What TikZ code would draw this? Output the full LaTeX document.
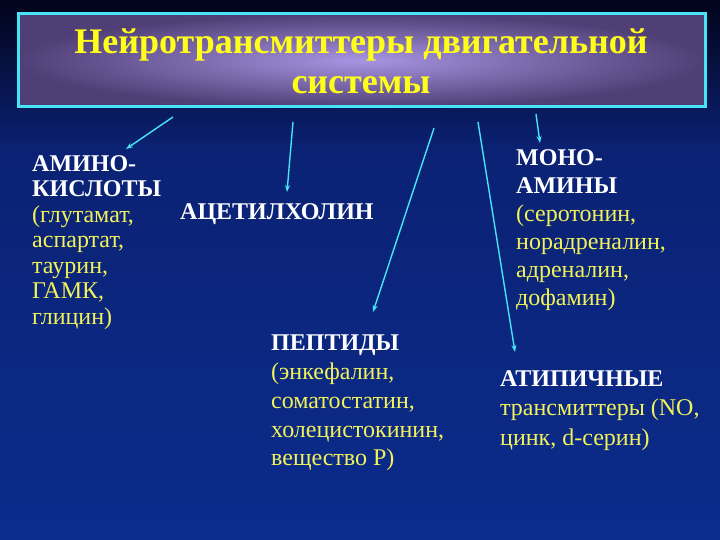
\documentclass[tikz,border=0pt]{standalone}
\usepackage{fontspec}
\setmainfont{Liberation Serif}
\newfontfamily\tms{Liberation Serif}
\usetikzlibrary{arrows.meta}
\definecolor{bgtop}{HTML}{02041A}
\definecolor{bgmid}{HTML}{0B2274}
\definecolor{bgbot}{HTML}{0B2C8C}
\definecolor{cyanl}{HTML}{46E4F4}
\definecolor{ttlyel}{HTML}{FFFF1A}
\definecolor{txtyel}{HTML}{F2F25A}
\definecolor{boxin}{HTML}{A894E2}
\definecolor{boxout}{HTML}{503F76}
\tikzset{
  arr/.style={cyanl, line width=1.4pt, -{Stealth[length=7pt,width=5pt]}},
  blk/.style={anchor=north west, align=left, inner sep=0pt, text=txtyel}
}
\newcommand{\hdr}[1]{\textcolor{white}{\textbf{#1}}}
\begin{document}
\begin{tikzpicture}[x=1pt,y=-1pt]
\useasboundingbox (0,0) rectangle (720,540);
\fill[top color=bgtop, bottom color=bgmid] (0,0) rectangle (720,150);
\fill[top color=bgmid, bottom color=bgbot] (0,150) rectangle (720,540);
% title box
\shade[inner color=boxin, outer color=boxout] (18,14) rectangle (705,107);
\draw[cyanl, line width=3pt] (18,14) rectangle (705,107);
\node[text=ttlyel, font=\tms\fontsize{36}{40}\selectfont\bfseries, align=center] (title) at (361,61) {Нейротрансмиттеры двигательной\\системы};
% blocks
\node[blk, font=\tms\fontsize{24}{25.5}\selectfont] (amino) at (32,155) {\hdr{АМИНО-}\\\hdr{КИСЛОТЫ}\\(глутамат,\\аспартат,\\таурин,\\ГАМК,\\глицин)};
\node[blk, font=\tms\fontsize{24}{28}\selectfont] (ach) at (180,203) {\hdr{АЦЕТИЛХОЛИН}};
\node[blk, font=\tms\fontsize{24}{28}\selectfont] (mono) at (516,149) {\hdr{МОНО-}\\\hdr{АМИНЫ}\\(серотонин,\\норадреналин,\\адреналин,\\дофамин)};
\node[blk, font=\tms\fontsize{24}{28.7}\selectfont] (pept) at (271,335) {\hdr{ПЕПТИДЫ}\\(энкефалин,\\соматостатин,\\холецистокинин,\\вещество Р)};
\node[blk, font=\tms\fontsize{24}{29.5}\selectfont] (atyp) at (500,370) {\hdr{АТИПИЧНЫЕ}\\трансмиттеры (NO,\\цинк, d-серин)};
% arrows
\coordinate (s1) at (173,117); \coordinate (e1) at (126,149);
\coordinate (s2) at (293,122); \coordinate (e2) at (287,192);
\coordinate (s3) at (434,128); \coordinate (e3) at (373,312);
\coordinate (s4) at (478,122); \coordinate (e4) at (515,352);
\coordinate (s5) at (536,114); \coordinate (e5) at (540,143);
\draw[arr] (s1) -- (e1);
\draw[arr] (s2) -- (e2);
\draw[arr] (s3) -- (e3);
\draw[arr] (s4) -- (e4);
\draw[arr] (s5) -- (e5);
\end{tikzpicture}
\end{document}
